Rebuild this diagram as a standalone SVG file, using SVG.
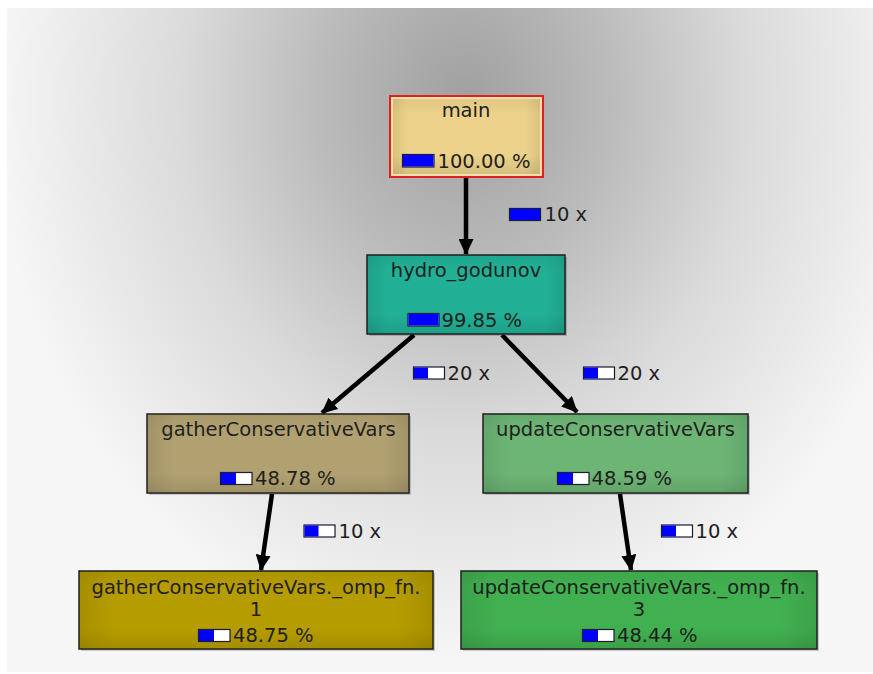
<svg xmlns="http://www.w3.org/2000/svg" width="873" height="674" viewBox="0 0 873 674">
<defs>
<radialGradient id="bg" gradientUnits="userSpaceOnUse" cx="465" cy="100" r="470" gradientTransform="translate(465 100) scale(1 1.19) translate(-465 -100)">
<stop offset="0" stop-color="#a0a0a0"/>
<stop offset="0.3" stop-color="#bababa"/>
<stop offset="0.6" stop-color="#dadada"/>
<stop offset="1" stop-color="#f6f6f6"/>
</radialGradient>
<linearGradient id="shadeH" x1="0" y1="0" x2="1" y2="0">
<stop offset="0" stop-color="#000" stop-opacity="0.08"/>
<stop offset="0.1" stop-color="#000" stop-opacity="0"/>
<stop offset="0.9" stop-color="#000" stop-opacity="0"/>
<stop offset="1" stop-color="#000" stop-opacity="0.08"/>
</linearGradient>
<linearGradient id="shadeV" x1="0" y1="0" x2="0" y2="1">
<stop offset="0" stop-color="#000" stop-opacity="0.05"/>
<stop offset="0.2" stop-color="#000" stop-opacity="0"/>
<stop offset="0.75" stop-color="#000" stop-opacity="0"/>
<stop offset="1" stop-color="#000" stop-opacity="0.09"/>
</linearGradient>
<marker id="arr" markerUnits="userSpaceOnUse" markerWidth="17" markerHeight="15" refX="15" refY="7.5" orient="auto" viewBox="0 0 17 15">
<path d="M0,0 L16,7.5 L0,15 Z" fill="#000"/>
</marker>
</defs>
<style>
.box{stroke:#1c1c1c;stroke-width:1.5}
.sh{fill:url(#shadeH);stroke:none}
.sv{fill:url(#shadeV);stroke:none}
.shadow{fill:#000;opacity:0.18}
text{font-family:"DejaVu Sans","Liberation Sans",sans-serif;font-size:19.5px;fill:#1e1e1e}
.c{text-anchor:middle}
.barbg{fill:#fff;stroke:#1c1c30;stroke-width:1.2}
.barfg{fill:#0000ff}
.edge{stroke:#000;stroke-width:4.5;fill:none;marker-end:url(#arr)}
</style>
<rect x="7" y="8" width="866" height="664" fill="url(#bg)"/>

<g id="connectors">
<line class="edge" x1="466" y1="178" x2="466" y2="254"/>
<line class="edge" x1="414" y1="335" x2="322" y2="413"/>
<line class="edge" x1="502" y1="335" x2="577" y2="412"/>
<line class="edge" x1="272" y1="494" x2="261" y2="570"/>
<line class="edge" x1="620" y1="494" x2="631" y2="570"/>
<g id="lbl-main-hydro">
<rect class="barbg" x="509.5" y="208.5" width="31" height="12"/><rect class="barfg" x="510" y="209" width="30" height="11"/>
<text x="544.5" y="221">10 x</text>
</g>
<g id="lbl-hydro-gather">
<rect class="barbg" x="413.5" y="367" width="31" height="12"/><rect class="barfg" x="414" y="367.5" width="14" height="11"/>
<text x="447.5" y="379.5">20 x</text>
</g>
<g id="lbl-hydro-update">
<rect class="barbg" x="583.5" y="367" width="31" height="12"/><rect class="barfg" x="584" y="367.5" width="14" height="11"/>
<text x="617.5" y="379.5">20 x</text>
</g>
<g id="lbl-gather-omp">
<rect class="barbg" x="304" y="525" width="31" height="12"/><rect class="barfg" x="304.5" y="525.5" width="14" height="11"/>
<text x="338.5" y="537.5">10 x</text>
</g>
<g id="lbl-update-omp">
<rect class="barbg" x="661.5" y="525" width="31" height="12"/><rect class="barfg" x="662" y="525.5" width="14" height="11"/>
<text x="695.5" y="537.5">10 x</text>
</g>
</g>

<g id="main">
<rect x="390" y="96" width="153" height="81" fill="#ecd28a" stroke="#e02020" stroke-width="2"/>
<rect x="392" y="98" width="149" height="77" fill="none" stroke="#fff" stroke-opacity="0.6" stroke-width="1"/>
<rect class="sh" x="393" y="99" width="147" height="75"/>
<rect class="sv" x="393" y="99" width="147" height="75"/>
<text class="c" x="466" y="117">main</text>
<rect class="barbg" x="402.5" y="154.5" width="31.5" height="12.5"/><rect class="barfg" x="403" y="155" width="30.5" height="11.5"/>
<text x="437.5" y="167.5">100.00 %</text>
</g>

<g id="hydro_godunov">
<rect class="shadow" x="369" y="257" width="198" height="79"/>
<rect class="box" x="367" y="255" width="198" height="79" fill="#21b096"/>
<rect class="sh" x="368" y="256" width="196" height="77"/>
<rect class="sv" x="368" y="256" width="196" height="77"/>
<text class="c" x="466" y="277">hydro_godunov</text>
<rect class="barbg" x="408" y="313.5" width="31" height="12.5"/><rect class="barfg" x="408.5" y="314" width="30" height="11.5"/>
<text x="441.5" y="326.5">99.85 %</text>
</g>

<g id="gatherConservativeVars">
<rect class="shadow" x="149" y="416" width="262" height="79"/>
<rect class="box" x="147" y="414" width="262" height="79" fill="#b1a171"/>
<rect class="sh" x="148" y="415" width="260" height="77"/>
<rect class="sv" x="148" y="415" width="260" height="77"/>
<text class="c" x="278.5" y="436">gatherConservativeVars</text>
<rect class="barbg" x="220.5" y="472.5" width="31.5" height="12"/><rect class="barfg" x="221" y="473" width="15" height="11"/>
<text x="255" y="485">48.78 %</text>
</g>

<g id="updateConservativeVars">
<rect class="shadow" x="485" y="416" width="265" height="79"/>
<rect class="box" x="483" y="414" width="265" height="79" fill="#6db575"/>
<rect class="sh" x="484" y="415" width="263" height="77"/>
<rect class="sv" x="484" y="415" width="263" height="77"/>
<text class="c" x="615.5" y="436">updateConservativeVars</text>
<rect class="barbg" x="557.5" y="472.5" width="31.5" height="12"/><rect class="barfg" x="558" y="473" width="15" height="11"/>
<text x="591.5" y="485">48.59 %</text>
</g>

<g id="gatherConservativeVars._omp_fn.1">
<rect class="shadow" x="81" y="573" width="354" height="78"/>
<rect class="box" x="79" y="571" width="354" height="78" fill="#b59c00"/>
<rect class="sh" x="80" y="572" width="352" height="76"/>
<rect class="sv" x="80" y="572" width="352" height="76"/>
<text class="c" x="256" y="593.5">gatherConservativeVars._omp_fn.</text>
<text class="c" x="256" y="616">1</text>
<rect class="barbg" x="198.5" y="629.5" width="31.5" height="12"/><rect class="barfg" x="199" y="630" width="15" height="11"/>
<text x="233" y="642">48.75 %</text>
</g>

<g id="updateConservativeVars._omp_fn.3">
<rect class="shadow" x="463" y="573" width="356" height="78"/>
<rect class="box" x="461" y="571" width="356" height="78" fill="#41b050"/>
<rect class="sh" x="462" y="572" width="354" height="76"/>
<rect class="sv" x="462" y="572" width="354" height="76"/>
<text class="c" x="639" y="593.5">updateConservativeVars._omp_fn.</text>
<text class="c" x="639" y="616">3</text>
<rect class="barbg" x="582.5" y="629.5" width="31.5" height="12"/><rect class="barfg" x="583" y="630" width="15" height="11"/>
<text x="617" y="642">48.44 %</text>
</g>
</svg>
